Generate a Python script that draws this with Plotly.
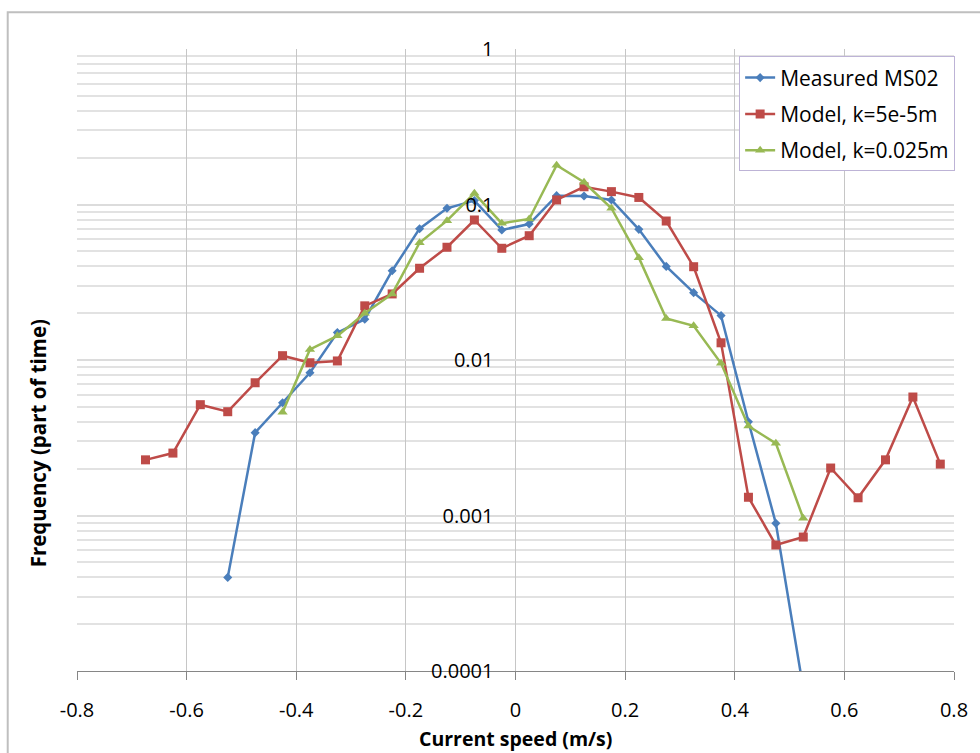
import plotly.graph_objects as go

# ---------------- data ----------------
x_measured = [-0.525, -0.475, -0.425, -0.375, -0.325, -0.275, -0.225, -0.175, -0.125, -0.075,
              -0.025, 0.025, 0.075, 0.125, 0.175, 0.225, 0.275, 0.325, 0.375, 0.425, 0.475, 0.525]
y_measured = [0.0004, 0.00341, 0.00531, 0.00828, 0.0150, 0.0183, 0.0375, 0.0699, 0.0945, 0.106,
              0.0686, 0.0749, 0.114, 0.1135, 0.107, 0.0692, 0.0400, 0.0271, 0.0193, 0.00401,
              0.00089, 0.000077]

x_model_smooth = [-0.675, -0.625, -0.575, -0.525, -0.475, -0.425, -0.375, -0.325, -0.275, -0.225,
                  -0.175, -0.125, -0.075, -0.025, 0.025, 0.075, 0.125, 0.175, 0.225, 0.275,
                  0.325, 0.375, 0.425, 0.475, 0.525, 0.575, 0.625, 0.675, 0.725, 0.775]
y_model_smooth = [0.00228, 0.00252, 0.00516, 0.00465, 0.00714, 0.01066, 0.0096, 0.00986, 0.0223, 0.0266,
                  0.0389, 0.0531, 0.0795, 0.0523, 0.0630, 0.107, 0.130, 0.121, 0.111, 0.0783,
                  0.0398, 0.0129, 0.00131, 0.000646, 0.000727, 0.00202, 0.00130, 0.00228, 0.00578, 0.00214]

x_model_rough = [-0.425, -0.375, -0.325, -0.275, -0.225, -0.175, -0.125, -0.075, -0.025, 0.025,
                 0.075, 0.125, 0.175, 0.225, 0.275, 0.325, 0.375, 0.425, 0.475, 0.525]
y_model_rough = [0.00461, 0.0117, 0.0143, 0.0200, 0.0266, 0.0568, 0.0787, 0.118, 0.0757, 0.0807,
                 0.179, 0.139, 0.0946, 0.0455, 0.0185, 0.0166, 0.00952, 0.00376, 0.00291, 0.00096]

names = ["Measured MS02", "Model, k=5e-5m", "Model, k=0.025m"]

x_tickvals = [-0.8, -0.6, -0.4, -0.2, 0, 0.2, 0.4, 0.6, 0.8]
x_ticktext = ["-0.8", "-0.6", "-0.4", "-0.2", "0", "0.2", "0.4", "0.6", "0.8"]
y_tickvals = [0.0001, 0.001, 0.01, 0.1, 1]
y_ticktext = ["0.0001", "0.001", "0.01", "0.1", "1"]
y_minorvals = [k * 10 ** e for e in (-4, -3, -2, -1) for k in range(2, 10)]

FONT = "Open Sans, Arial, sans-serif"
BLUE = "#4a7ebb"
RED = "#be4b48"
GREEN = "#98b954"

fig = go.Figure()
fig.add_trace(go.Scatter(x=x_measured, y=y_measured, mode="lines+markers", name=names[0],
                         legendgroup="a",
                         line=dict(color=BLUE, width=2.5),
                         marker=dict(symbol="diamond", size=7, color=BLUE)))
fig.add_trace(go.Scatter(x=x_model_smooth, y=y_model_smooth, mode="lines+markers", name=names[1],
                         legendgroup="b",
                         line=dict(color=RED, width=2.5),
                         marker=dict(symbol="square", size=9, color=RED)))
fig.add_trace(go.Scatter(x=x_model_rough, y=y_model_rough, mode="lines+markers", name=names[2],
                         legendgroup="c",
                         line=dict(color=GREEN, width=2.5),
                         marker=dict(symbol="triangle-up", size=9, color=GREEN)))

fig.update_layout(
    width=980, height=753,
    margin=dict(l=77, r=17, t=49, b=82),
    plot_bgcolor="white", paper_bgcolor="white",
    font=dict(family=FONT, size=20, color="#000000"),
    showlegend=True,
    legend=dict(x=0.755, y=0.988, xanchor="left", yanchor="top",
                bgcolor="white", bordercolor="#bdb3d6", borderwidth=1,
                font=dict(family=FONT, size=21), itemwidth=30, tracegroupgap=6),
)

fig.update_xaxes(
    range=[-0.8, 0.8], domain=[0, 1],
    tickmode="array", tickvals=x_tickvals, ticktext=x_ticktext,
    showgrid=True, gridcolor="#c6c6c6", gridwidth=1,
    zeroline=False,
    showline=True, linecolor="#868686", linewidth=1,
    ticks="outside", ticklen=8, tickcolor="#868686",
    ticklabelstandoff=13,
    tickfont=dict(family=FONT, size=20),
)

fig.update_yaxes(
    type="log", range=[-4, 0],
    anchor="free", position=0.5,
    tickmode="array", tickvals=y_tickvals, ticktext=y_ticktext,
    showgrid=True, gridcolor="#dcdcdc", gridwidth=2,
    minor=dict(tickmode="array", tickvals=y_minorvals, showgrid=True,
               gridcolor="#e2e2e2", gridwidth=2, ticks=""),
    zeroline=False, showline=False, ticks="",
    ticklabelstandoff=22,
    tickfont=dict(family=FONT, size=20),
)

fig.add_annotation(text="<b>Current speed (m/s)</b>", xref="paper", yref="paper",
                   x=0.5, y=0.0, yshift=-67, xanchor="center", yanchor="middle",
                   showarrow=False, font=dict(family=FONT, size=19.5))
fig.add_annotation(text="<b>Frequency (part of time)</b>", xref="paper", yref="paper",
                   x=0, xshift=-39, y=0.366, xanchor="center", yanchor="middle", textangle=-90,
                   showarrow=False, font=dict(family=FONT, size=20.5))

# chart-area border
fig.add_shape(type="rect", xref="paper", yref="paper",
              x0=-0.079, x1=1.05, y0=-0.2, y1=1.059,
              line=dict(color="#bfbfbf", width=2), fillcolor="rgba(0,0,0,0)", layer="below")

fig.write_html("out.html")
